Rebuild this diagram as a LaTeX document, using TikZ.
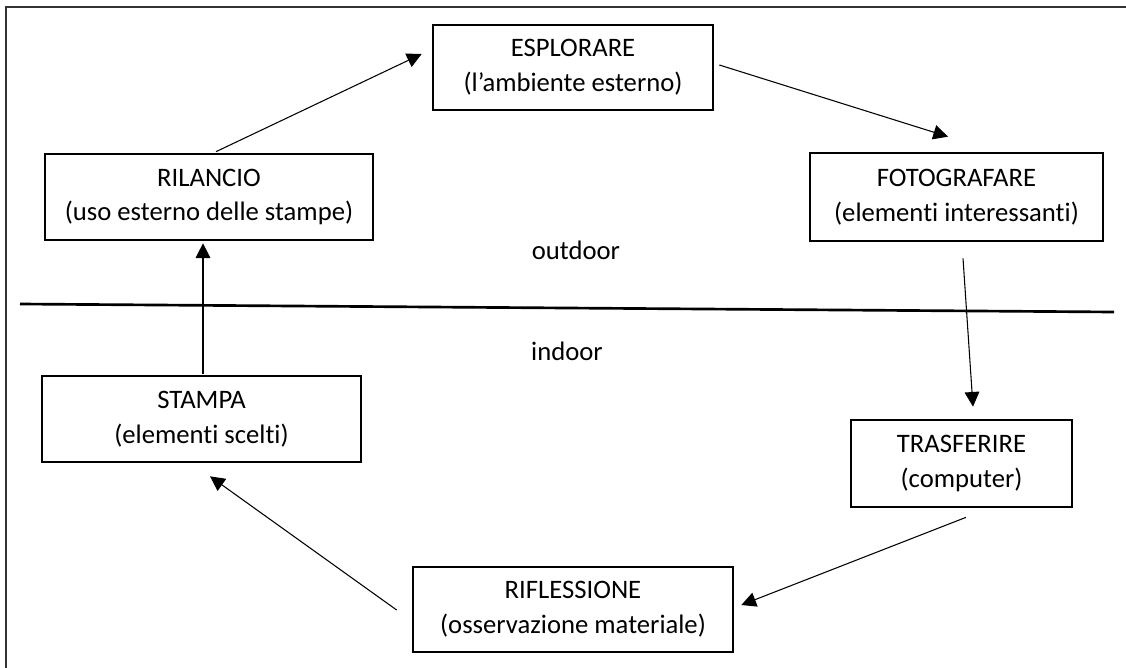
\documentclass[tikz,border=0pt]{standalone}
\usepackage{fontspec}
\setmainfont{Carlito}[Ligatures=NoCommon]
\usetikzlibrary{arrows.meta,calc}
\tikzset{
  box/.style={draw=black, line width=2pt, inner sep=0pt, align=center,
    font=\fontsize{20}{26}\selectfont},
  lbl/.style={inner sep=0pt, font=\fontsize{20}{26}\selectfont, anchor=base},
  arr/.style={line width=0.8pt, -{Triangle[length=11pt,width=11pt]}},
  divider/.style={line width=2pt},
  frame/.style={line width=1.4pt, draw=black!80}
}
\begin{document}
\begin{tikzpicture}[x=0.75pt,y=-0.75pt]
\useasboundingbox (0,0) rectangle (1126,667);
\draw[frame] (1130,7) -- (6,7) -- (6,670);
% boxes
\node[box, minimum width=210pt, minimum height=63.75pt] (esp) at (573,67.5) {ESPLORARE\\(l’ambiente esterno)};
\node[box, minimum width=246pt, minimum height=64.5pt] (ril) at (209,197) {RILANCIO\\(uso esterno delle stampe)};
\node[box, minimum width=219.75pt, minimum height=66pt] (foto) at (956.5,197) {FOTOGRAFARE\\(elementi interessanti)};
\node[box, minimum width=239.25pt, minimum height=64.5pt] (stampa) at (201.5,419) {STAMPA\\(elementi scelti)};
\node[box, minimum width=165.75pt, minimum height=65.25pt] (tras) at (961.5,463.5) {TRASFERIRE\\(computer)};
\node[box, minimum width=240pt, minimum height=63.75pt] (rif) at (573,609.5) {RIFLESSIONE\\(osservazione materiale)};
% labels
\node[lbl] (out) at (576,259) {outdoor};
\node[lbl] (in) at (567,360) {indoor};
% divider
\coordinate (divL) at (20,304);
\coordinate (divR) at (1114,312);
\draw[divider] (divL) -- (divR);
% arrows
\draw[arr] ($(ril.north)+(7,-1)$) -- ($(esp.west)+(-10,-13.5)$);
\draw[arr] ($(esp.east)+(5,-2.5)$) -- ($(foto.north)+(-8.5,-15)$);
\draw[arr] ($(foto.south)+(6.5,16)$) -- ($(tras.north)+(11.5,-12)$);
\draw[arr] ($(tras.south)+(4.5,9)$) -- ($(rif.east)+(7,-4.5)$);
\draw[arr] ($(rif.west)+(-15,0.5)$) -- ($(stampa.south)+(8.5,13)$);
\draw[arr] ($(stampa.north)+(1.5,-1)$) -- ($(ril.south)+(-6,2)$);
\end{tikzpicture}
\end{document}
